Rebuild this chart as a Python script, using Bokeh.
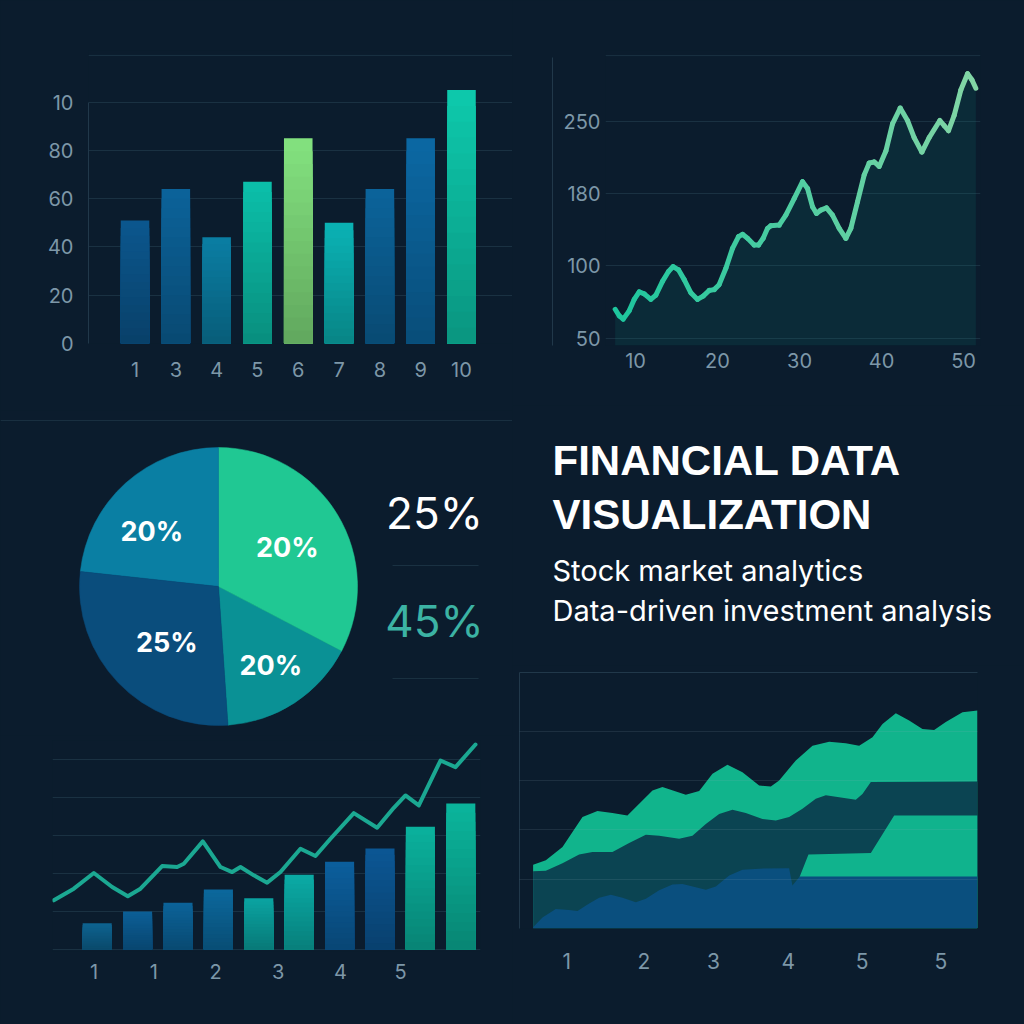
import numpy as np
from bokeh.plotting import figure
from bokeh.models import Range1d, FixedTicker, Span, LinearAxis
from bokeh.layouts import row, column
from bokeh.core.properties import value
from bokeh.embed import file_html
from bokeh.resources import INLINE

# ------------------------------------------------------------------ data
bar_categories = ["1", "3", "4", "5", "6", "7", "8", "9", "10"]
bar_values = [51, 64, 44, 67, 85, 50, 64, 85, 105]
bar_colors = ["#0b5184", "#0b5c8f", "#0a7598", "#0bb29e", "#7ad276",
              "#0aa6a8", "#0b5d90", "#0b6198", "#0dbba0"]
bar_y_ticks = [0, 20, 40, 60, 80, 100]
bar_y_labels = ["0", "20", "40", "60", "80", "10"]

line_x = [7.52, 8.01, 8.50, 9.23, 9.84, 10.45, 11.06, 11.87, 12.48, 13.29, 14.02,
          14.59, 15.24, 15.94, 16.75, 17.56, 18.25, 18.98, 19.59, 20.20, 21.02,
          21.83, 22.56, 23.05, 23.66, 24.47, 25.00, 25.57, 26.10, 26.50, 27.52,
          28.33, 29.35, 30.37, 30.98, 31.59, 32.07, 32.60, 33.29, 34.02, 34.84,
          35.65, 36.26, 37.07, 37.89, 38.50, 39.11, 39.72, 40.53, 41.34, 42.28,
          43.17, 43.98, 44.92, 45.81, 47.11, 47.64, 48.17, 48.86, 49.67, 50.49,
          51.02, 51.50]
line_y = [70.0, 65.5, 63.2, 68.9, 76.8, 82.0, 80.7, 76.8, 79.8, 89.3, 96.1,
          99.5, 97.3, 90.5, 81.4, 76.8, 79.1, 83.0, 83.6, 87.0, 98.4,
          119.4, 132.3, 134.9, 130.5, 123.1, 123.1, 130.5, 141.5, 144.4, 145.1,
          156.1, 174.5, 191.5, 184.9, 165.3, 158.0, 161.7, 164.2, 156.1, 141.5,
          130.5, 141.5, 170.8, 198.1, 209.6, 210.6, 206.3, 221.1, 247.4, 262.8,
          250.7, 234.2, 220.1, 234.2, 250.7, 245.7, 240.8, 255.6, 280.2, 296.0,
          290.1, 281.9]
line_y_ticks = [50, 100, 180, 250]
line_x_ticks = [10, 20, 30, 40, 50]

pie_labels = ["20%", "20%", "20%", "25%"]
pie_shares = [16.25, 32.67, 23.28, 27.80]          # percent of the circle
pie_colors = ["#0a9195", "#20c893", "#0a7fa3", "#0a4d7c"]
pie_start_deg = -86.1
side_values = ["25%", "45%"]
side_colors = ["#ffffff", "#3cb3a4"]

title_lines = ["FINANCIAL DATA", "VISUALIZATION"]
subtitle_lines = ["Stock market analytics", "Data-driven investment analysis"]

combo_bar_values = [6.9, 10.0, 12.3, 15.8, 13.5, 19.7, 23.1, 26.6, 32.3, 38.4]
combo_bar_colors = ["#0d5c86", "#0b588c", "#0b5c8e", "#0b6192", "#0a9896",
                    "#0a9f9a", "#0b5892", "#0b518a", "#0aa592", "#0aa891"]
combo_line_x = [-1.073, -0.578, -0.083, 0.371, 0.758, 1.072, 1.608, 1.979, 2.144,
                2.615, 3.052, 3.341, 3.547, 3.877, 4.207, 4.537, 5.032, 5.403,
                5.775, 6.352, 6.930, 7.342, 7.631, 7.961, 8.498, 8.869, 9.364]
combo_line_y = [12.96, 16.02, 20.14, 16.46, 14.01, 16.02, 21.98, 21.72, 22.59,
                28.46, 21.72, 20.40, 21.72, 19.53, 17.60, 20.40, 26.53, 24.61,
                29.16, 35.90, 32.05, 37.30, 40.54, 37.92, 49.74, 47.99, 53.94]
combo_tick_pos = [-0.08, 1.4, 2.93, 4.48, 6.02, 7.51]
combo_tick_labels = ["1", "1", "2", "3", "4", "5"]
combo_grid = [0, 10, 20, 30, 40, 50]

area_top_x = [0.550, 0.720, 0.943, 1.210, 1.410, 1.611, 1.811, 1.968, 2.146, 2.279,
              2.591, 2.770, 2.948, 3.148, 3.349, 3.572, 3.728, 3.839, 4.062, 4.285,
              4.508, 4.730, 4.909, 5.087, 5.221, 5.399, 5.577, 5.755, 5.911, 6.067,
              6.290, 6.491]
area_top_y = [12.9, 13.8, 16.5, 22.6, 23.8, 23.4, 22.9, 25.3, 28.0, 28.7,
              27.1, 27.9, 31.4, 33.2, 31.7, 29.0, 28.8, 30.0, 34.1, 37.1,
              37.9, 37.6, 37.1, 38.8, 41.5, 43.7, 42.2, 40.5, 40.3, 41.9,
              43.9, 44.25]
area_mid_x = [0.550, 0.720, 0.943, 1.165, 1.344, 1.611, 1.834, 2.057, 2.235, 2.502,
              2.680, 2.859, 3.037, 3.215, 3.393, 3.616, 3.795, 3.973, 4.151, 4.329,
              4.463, 4.641, 4.864, 4.953, 5.065, 6.491]
area_mid_y = [11.6, 11.7, 13.2, 15.0, 15.5, 15.5, 17.3, 19.0, 18.8, 18.2,
              18.8, 21.2, 23.2, 24.1, 23.4, 22.2, 21.9, 22.6, 24.3, 26.3,
              27.0, 26.6, 26.1, 27.3, 29.7, 29.8]
area_low_x = [4.115, 4.231, 5.065, 5.377, 6.491]
area_low_y = [10.5, 15.0, 15.3, 22.9, 22.9]
area_base_x = [0.550, 0.675, 0.853, 1.032, 1.143, 1.299, 1.433, 1.589, 1.745, 1.923,
               2.057, 2.235, 2.413, 2.547, 2.725, 2.859, 2.992, 3.171, 3.349, 3.572,
               3.973, 3.995, 4.017, 4.115, 6.491]
area_base_y = [0.2, 2.2, 3.9, 3.7, 3.5, 5.0, 6.2, 6.8, 6.2, 5.3,
               6.0, 7.7, 8.9, 9.0, 8.3, 7.8, 8.5, 10.7, 11.9, 12.1,
               12.2, 10.4, 8.7, 10.5, 10.5]
area_colors = ["#11b48c", "#0b4452", "#10b38d", "#0a4f7e"]
area_tick_pos = [1, 2.03, 2.96, 3.96, 4.95, 6.0]
area_tick_labels = ["1", "2", "3", "4", "5", "5"]
area_grid = [10, 20, 30, 40]

# ------------------------------------------------------------------ style
BG = "#0b1c2d"
GRID = "#1a3142"
AXIS = "#21384a"
TICK = "#7d97a8"
FONT = "Inter"
TFONT = "Liberation Sans"


def hex_rgb(h):
    h = h.lstrip("#")
    return np.array([int(h[i:i + 2], 16) for i in (0, 2, 4)], float)


def rgb_hex(c):
    c = np.clip(c, 0, 255).astype(int)
    return "#%02x%02x%02x" % tuple(c)


def make_fig(w, h, xr, yr, bl, br, bt, bb, axes=True):
    kw = {}
    if not axes:
        kw = dict(x_axis_type=None, y_axis_type=None)
    p = figure(width=w, height=h, x_range=xr, y_range=yr,
               output_backend="svg", toolbar_location=None,
               min_border_left=bl, min_border_right=br,
               min_border_top=bt, min_border_bottom=bb, **kw)
    p.background_fill_color = BG
    p.border_fill_color = BG
    p.outline_line_color = None
    if axes:
        p.xgrid.visible = False
        p.ygrid.grid_line_color = GRID
    return p


def style_axis(ax, size="20px", standoff=8):
    ax.axis_line_color = None
    ax.major_tick_line_color = None
    ax.minor_tick_line_color = None
    ax.major_tick_out = 0
    ax.major_tick_in = 0
    ax.minor_tick_out = 0
    ax.minor_tick_in = 0
    ax.major_label_text_color = TICK
    ax.major_label_text_font = FONT
    ax.major_label_text_font_size = size
    ax.major_label_standoff = standoff


def empty_axis(**extra):
    ax = LinearAxis(ticker=FixedTicker(ticks=[]), axis_line_color=AXIS,
                    major_tick_line_color=None, minor_tick_line_color=None,
                    major_tick_out=0, major_tick_in=0, minor_tick_out=0, minor_tick_in=0,
                    major_label_text_font_size="0px", major_label_standoff=0, **extra)
    return ax


def gradient_bars(p, xs, values, colors, width, bands=16, lo=0.80, hi=1.08):
    """Bars shaded darker at the bottom and lighter at the top: overlapping
    rectangles from the full bar down to the lowest band, so no seams show."""
    bx, bt, bc = [], [], []
    for k in range(bands - 1, -1, -1):
        f = (k + 0.5) / bands
        for x, v, c in zip(xs, values, colors):
            bx.append(x)
            bt.append(v * (k + 1) / bands)
            bc.append(rgb_hex(hex_rgb(c) * (lo + (hi - lo) * f)))
    p.vbar(x=bx, bottom=0, top=bt, width=width, fill_color=bc, line_color=None)


# ------------------------------------------------------------------ panel 1: bars
p1 = make_fig(512, 410, Range1d(-1.14, 9.25), Range1d(0, 121.4), 88, 0, 50, 67)
bx = list(range(len(bar_values)))
gradient_bars(p1, bx, bar_values, bar_colors, 0.70)
xa1 = p1.below[0]
style_axis(xa1, "20px", 18)
xa1.ticker = FixedTicker(ticks=bx)
xa1.major_label_overrides = {i: c for i, c in zip(bx, bar_categories)}
ya1 = p1.left[0]
style_axis(ya1, "20px", 15)
ya1.axis_line_color = AXIS
ya1.bounds = (0, 100)
ya1.ticker = FixedTicker(ticks=bar_y_ticks)
ya1.major_label_overrides = {t: l for t, l in zip(bar_y_ticks, bar_y_labels)}
p1.ygrid.ticker = FixedTicker(ticks=bar_y_ticks)
p1.add_layout(Span(location=119.35, dimension="width", line_color=GRID, line_width=1))

# ------------------------------------------------------------------ panel 2: line
def to_idx(v):
    v = np.asarray(v, float)
    t = np.asarray(line_y_ticks, float)
    i = np.clip(np.searchsorted(t, v) - 1, 0, len(t) - 2)
    return i + (v - t[i]) / (t[i + 1] - t[i])


p2 = make_fig(512, 405, Range1d(6.34, 52.07), Range1d(-0.101, 3.978), 93, 44, 50, 60)
inner = p2.left[0]
style_axis(inner, "20px", 5)
inner.ticker = FixedTicker(ticks=list(range(len(line_y_ticks))))
inner.major_label_overrides = {i: str(t) for i, t in enumerate(line_y_ticks)}
inner.axis_label = " "
inner.axis_label_text_font_size = "1px"
inner.axis_label_standoff = 4
p2.ygrid.ticker = FixedTicker(ticks=list(range(len(line_y_ticks))))
p2.add_layout(empty_axis(bounds=(-0.101, 3.88)), "left")
xa2 = p2.below[0]
style_axis(xa2, "20px", 7)
xa2.ticker = FixedTicker(ticks=line_x_ticks)
p2.add_layout(Span(location=3.908, dimension="width", line_color=GRID, line_width=1))

lx = np.asarray(line_x, float)
ly = to_idx(line_y)
p2.varea(x=lx, y1=-0.101, y2=ly, fill_color="#139080", fill_alpha=0.13)
c0 = hex_rgb("#1ec69e")
c1 = hex_rgb("#84d6a6")
tt = (lx[:-1] - lx[0]) / (lx[-1] - lx[0])
seg_cols = [rgb_hex(c0 + (c1 - c0) * t) for t in tt]
p2.segment(x0=lx[:-1], y0=ly[:-1], x1=lx[1:], y1=ly[1:], line_color=seg_cols,
           line_width=5, line_cap="round")

# ------------------------------------------------------------------ panel 3: pie
R = 139.0
p3 = make_fig(512, 325, Range1d(-218 / R, 294 / R), Range1d(-149 / R, 176 / R),
              0, 0, 0, 0, axes=False)
shares = np.asarray(pie_shares, float) / 100 * 2 * np.pi
ends = np.deg2rad(pie_start_deg) + np.cumsum(shares)
starts = ends - shares
p3.wedge(x=[0] * 4, y=[0] * 4, radius=1, start_angle=starts, end_angle=ends,
         fill_color=pie_colors, line_color=pie_colors, line_width=0.5)
label_r = [0.68, 0.57, 0.62, 0.55]
label_nudge = np.deg2rad([0.5, -1.4, 8.8, 3.7])
mid = (starts + ends) / 2 + label_nudge
p3.text(x=np.array(label_r) * np.cos(mid), y=np.array(label_r) * np.sin(mid), text=pie_labels,
        text_align="center", text_baseline="middle", text_font=value(FONT),
        text_font_size="27px", text_font_style="bold", text_color="#ffffff")
p3.text(x=[1.554, 1.554], y=[0.532, -0.245], text=side_values, text_color=side_colors,
        text_align="center", text_baseline="middle", text_font=value(FONT),
        text_font_size="44px")
p3.segment(x0=[1.252, 1.252], y0=[0.151, -0.662], x1=[1.871, 1.871], y1=[0.151, -0.662],
           line_color=GRID, line_width=1)
p3.add_layout(Span(location=1.194, dimension="width", line_color=GRID, line_width=1))

# ------------------------------------------------------------------ panel 4: title
p4 = make_fig(512, 260, Range1d(0, 512), Range1d(260, 0), 0, 0, 0, 0, axes=False)
p4.text(x=[40, 40], y=[55, 108.7], text=title_lines, text_baseline="middle",
        text_font=value(TFONT), text_font_size="42px", text_font_style="bold",
        text_color="#ffffff")
p4.text(x=[40, 40], y=[164.5, 204.5], text=subtitle_lines, text_baseline="middle",
        text_font=value(FONT), text_font_size="29px", text_color="#ffffff")

# ------------------------------------------------------------------ panel 5: combo
p5 = make_fig(512, 289, Range1d(-1.106, 9.488), Range1d(-0.5, 55.0), 52, 32, 5, 73)
cx = list(range(len(combo_bar_values)))
gradient_bars(p5, cx, combo_bar_values, combo_bar_colors, 0.72)
p5.line(x=combo_line_x, y=combo_line_y, line_color="#1ba892", line_width=4,
        line_join="round", line_cap="round")
p5.left[0].visible = False
p5.ygrid.ticker = FixedTicker(ticks=combo_grid)
xa5 = p5.below[0]
style_axis(xa5, "20px", 12)
xa5.ticker = FixedTicker(ticks=combo_tick_pos)
xa5.major_label_overrides = {t: l for t, l in zip(combo_tick_pos, combo_tick_labels)}

# ------------------------------------------------------------------ panel 6: areas
p6 = make_fig(512, 359, Range1d(0.368, 6.491), Range1d(-0.06, 51.97), 7, 47, 7, 96)
for xs, ys, col in [(area_top_x, area_top_y, area_colors[0]),
                    (area_mid_x, area_mid_y, area_colors[1]),
                    (area_low_x, area_low_y, area_colors[2]),
                    (area_base_x, area_base_y, area_colors[3])]:
    p6.varea(x=xs, y1=0, y2=ys, fill_color=col)
ya6 = p6.left[0]
ya6.ticker = FixedTicker(ticks=[])
ya6.axis_line_color = AXIS
ya6.major_tick_line_color = None
ya6.minor_tick_line_color = None
ya6.major_label_text_font_size = "0px"
ya6.major_label_standoff = 0
ya6.major_tick_out = 0
ya6.minor_tick_out = 0
xa6 = p6.below[0]
p6.add_layout(empty_axis(), "above")
p6.ygrid.ticker = FixedTicker(ticks=area_grid)
p6.ygrid.grid_line_color = "#9ab4c4"
p6.ygrid.grid_line_alpha = 0.13
p6.ygrid.level = "overlay"
style_axis(xa6, "21px", 24)
xa6.ticker = FixedTicker(ticks=area_tick_pos)
xa6.major_label_overrides = {t: l for t, l in zip(area_tick_pos, area_tick_labels)}

# ------------------------------------------------------------------ layout
left_col = column(row(p1), row(p3), row(p5), spacing=0)
right_col = column(row(p2), row(p4), row(p6), spacing=0)
layout = row(left_col, right_col, spacing=0)
html = file_html(layout, INLINE)
html = html.replace("</head>", "<style>body{background:%s;}</style></head>" % BG, 1)
open("out.html", "w").write(html)
